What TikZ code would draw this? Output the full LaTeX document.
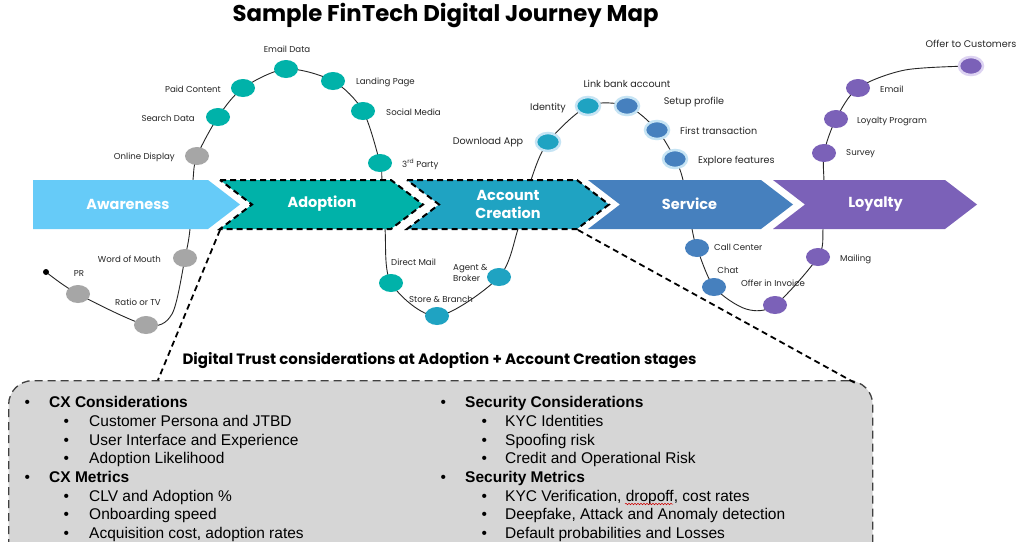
\documentclass[tikz,border=0pt]{standalone}
\usepackage{fontspec}
\setmainfont{Liberation Sans}
\newfontfamily\geo{Poppins}
\usetikzlibrary{shapes.geometric,decorations.pathmorphing}
\definecolor{cAware}{HTML}{66CBF8}
\definecolor{cAdopt}{HTML}{00B2A9}
\definecolor{cAcct}{HTML}{1FA3C2}
\definecolor{cServ}{HTML}{4680BE}
\definecolor{cLoy}{HTML}{7B61B8}
\definecolor{cGray}{HTML}{A6A6A6}
\definecolor{cBox}{HTML}{D6D6D6}
\definecolor{cHaloB}{HTML}{C6E4F4}
\definecolor{cHaloP}{HTML}{DDD3F2}
\definecolor{cTxt}{HTML}{262626}
\tikzset{
  dot/.style={ellipse, minimum width=24pt, minimum height=18pt, inner sep=0pt, fill=#1},
  halo/.style={draw=#1, line width=2.5pt},
  lbl/.style={font=\geo\fontsize{8.6}{10}\selectfont, text=cTxt, inner sep=0pt},
  lblb/.style={font=\geo\fontsize{9.6}{11}\selectfont, text=cTxt, inner sep=0pt},
  stagetxt/.style={font=\geo\bfseries\fontsize{14.5}{18}\selectfont, text=white, align=center, inner sep=0pt},
  stageout/.style={draw=black, line width=2pt, dash pattern=on 6pt off 4pt},
  journey/.style={draw=black!85, line width=0.9pt},
  leader/.style={draw=black, line width=1.8pt, dash pattern=on 6pt off 4pt},
  panel/.style={draw=black!75, fill=cBox, line width=1.3pt, dash pattern=on 8pt off 5pt, rounded corners=24pt},
  boxtxt/.style={font=\fontsize{15.5}{18.7}\selectfont, text=black, inner sep=0pt, anchor=base west},
}
\begin{document}
\begin{tikzpicture}[x=1pt,y=-1pt]
\useasboundingbox (0,0) rectangle (1024,541);
\clip (0,0) rectangle (1024,541);
\fill[white] (0,0) rectangle (1024,541);

% title
\node[font=\geo\bfseries\fontsize{22.8}{26}\selectfont, anchor=base, inner sep=0pt] (title) at (445.5,21) {Sample FinTech Digital Journey Map};

% waypoints of the journey line
\coordinate (c0) at (46,272);
\coordinate (cPR) at (78,294);
\coordinate (cRatio) at (146,325);
\coordinate (w1) at (172,314);
\coordinate (cWom) at (185,258);
\coordinate (w2) at (190,229);
\coordinate (w3) at (193,180);
\coordinate (cOnline) at (197,156);
\coordinate (cSearch) at (218,117);
\coordinate (cPaid) at (243,88);
\coordinate (cEmailD) at (286,69);
\coordinate (cLanding) at (333,81);
\coordinate (cSocial) at (363,111);
\coordinate (cThird) at (380,163);
\coordinate (w4) at (382,180);
\coordinate (w5) at (385,229);
\coordinate (cDMail) at (391,283);
\coordinate (cStore) at (437,316);
\coordinate (cAgent) at (499,277);
\coordinate (w8) at (518,229);
\coordinate (w9) at (531,180);
\coordinate (cDownload) at (548,142);
\coordinate (cIdentity) at (588,106);
\coordinate (cLink) at (627,106);
\coordinate (cFirst) at (657,130);
\coordinate (cExplore) at (675,159);
\coordinate (w10) at (683,180);
\coordinate (w11) at (692,229);
\coordinate (cCall) at (697,248);
\coordinate (cChat) at (714,287);
\coordinate (w12) at (746,309);
\coordinate (cOffer) at (775,305);
\coordinate (cMailing) at (818,257);
\coordinate (w14) at (823,229);
\coordinate (w15) at (824,185);
\coordinate (cSurvey) at (824,153);
\coordinate (cLProg) at (836,119);
\coordinate (cEmailP) at (858,88);
\coordinate (w16) at (905,70);
\coordinate (cOTC) at (971,66);

\draw[journey] plot[smooth, tension=0.5] coordinates {(c0) (cPR) (cRatio) (w1) (cWom) (w2) (w3) (cOnline) (cSearch) (cPaid) (cEmailD) (cLanding) (cSocial) (cThird) (w4) (w5) (cDMail) (cStore) (cAgent) (w8) (w9) (cDownload) (cIdentity) (cLink) (cFirst) (cExplore) (w10) (w11) (cCall) (cChat) (w12) (cOffer) (cMailing) (w14) (w15) (cSurvey) (cLProg) (cEmailP) (w16) (cOTC)};

% stage chevrons
\fill[cAware] (33,180) -- (208,180) -- (240,204.5) -- (208,229) -- (33,229) -- cycle;
\path[fill=cAdopt, stageout] (220,180) -- (391,180) -- (423,204.5) -- (391,229) -- (220,229) -- (252,204.5) -- cycle;
\path[fill=cAcct, stageout] (407,180) -- (577,180) -- (609,204.5) -- (577,229) -- (407,229) -- (439,204.5) -- cycle;
\fill[cServ] (588,180) -- (761,180) -- (793,204.5) -- (761,229) -- (588,229) -- (620,204.5) -- cycle;
\fill[cLoy] (773,180) -- (945,180) -- (977,204.5) -- (945,229) -- (773,229) -- (805,204.5) -- cycle;
\coordinate (adoBL) at (220,230);
\coordinate (accBR) at (578,230);

\node[stagetxt] (sAware) at (128,204) {Awareness};
\node[stagetxt] (sAdopt) at (322,204) {Adoption};
\node[stagetxt] (sAcct) at (508,204) {Account\\Creation};
\node[stagetxt] (sServ) at (689.5,204) {Service};
\node[stagetxt] (sLoy) at (875.5,204) {Loyalty};

% dots
\node[circle, fill=black, inner sep=0pt, minimum size=6pt] (dStart) at (c0) {};
\node[dot=cGray] (dPR) at (cPR) {};
\node[dot=cGray] (dRatio) at (cRatio) {};
\node[dot=cGray] (dWom) at (cWom) {};
\node[dot=cGray] (dOnline) at (cOnline) {};
\node[dot=cAdopt] (dSearch) at (cSearch) {};
\node[dot=cAdopt] (dPaid) at (cPaid) {};
\node[dot=cAdopt] (dEmailD) at (cEmailD) {};
\node[dot=cAdopt] (dLanding) at (cLanding) {};
\node[dot=cAdopt] (dSocial) at (cSocial) {};
\node[dot=cAdopt] (dThird) at (cThird) {};
\node[dot=cAdopt] (dDMail) at (cDMail) {};
\node[dot=cAcct] (dStore) at (cStore) {};
\node[dot=cAcct] (dAgent) at (cAgent) {};
\node[dot=cAcct, halo=cHaloB] (dDownload) at (cDownload) {};
\node[dot=cAcct, halo=cHaloB] (dIdentity) at (cIdentity) {};
\node[dot=cServ, halo=cHaloB] (dLink) at (cLink) {};
\node[dot=cServ, halo=cHaloB] (dFirst) at (cFirst) {};
\node[dot=cServ, halo=cHaloB] (dExplore) at (cExplore) {};
\node[dot=cServ] (dCall) at (cCall) {};
\node[dot=cServ] (dChat) at (cChat) {};
\node[dot=cLoy] (dOffer) at (cOffer) {};
\node[dot=cLoy] (dMailing) at (cMailing) {};
\node[dot=cLoy] (dSurvey) at (cSurvey) {};
\node[dot=cLoy] (dLProg) at (cLProg) {};
\node[dot=cLoy] (dEmailP) at (cEmailP) {};
\node[dot=cLoy, halo=cHaloP] (dOTC) at (cOTC) {};

% labels
\node[lbl] (tEmailD) at (287,49) {Email Data};
\node[lbl, anchor=east] (tPaid) at (221,89) {Paid Content};
\node[lbl, anchor=east] (tSearch) at (195,118) {Search Data};
\node[lbl, anchor=east] (tOnline) at (175,157) {Online Display};
\node[lbl, anchor=west] (tLanding) at (356,82) {Landing Page};
\node[lbl, anchor=west] (tSocial) at (386,112) {Social Media};
\node[lbl, anchor=west] (tThird) at (402,164) {3\textsuperscript{rd} Party};
\node[lbl, anchor=east] (tWom) at (161,259) {Word of Mouth};
\node[lbl] (tPR) at (79,273) {PR};
\node[lbl] (tRatio) at (138,302) {Ratio or TV};
\node[lbl, anchor=west] (tDMail) at (391,262) {Direct Mail};
\node[lbl] (tStore) at (441,299) {Store \& Branch};
\node[lbl, anchor=west, align=left, font=\geo\fontsize{8.6}{10.5}\selectfont] (tAgent) at (453,273) {Agent \&\\Broker};
\node[lblb] (tDownload) at (488,142) {Download App};
\node[lblb] (tIdentity) at (548,108) {Identity};
\node[lblb] (tLink) at (627,84) {Link bank account};
\node[lblb] (tSetup) at (694,102) {Setup profile};
\node[lblb, anchor=west] (tFirst) at (680,131) {First transaction};
\node[lblb, anchor=west] (tExplore) at (698,161) {Explore features};
\node[lbl, anchor=west] (tCall) at (714,247) {Call Center};
\node[lbl] (tChat) at (728,270) {Chat};
\node[lbl] (tOffer) at (773,283) {Offer in Invoice};
\node[lbl, anchor=west] (tMailing) at (840,259) {Mailing};
\node[lbl, anchor=west] (tSurvey) at (846,154) {Survey};
\node[lbl, anchor=west] (tLProg) at (857,121) {Loyalty Program};
\node[lbl, anchor=west] (tEmailP) at (880,89) {Email};
\node[lblb] (tOTC) at (971,44) {Offer to Customers};

% considerations panel
\node[panel, anchor=north west, minimum width=864pt, minimum height=200pt, inner sep=0pt] (panel) at (8,380) {};
\coordinate (panelL) at (158,380);
\coordinate (panelR) at (857,384);
\draw[leader] (adoBL) -- (panelL);
\draw[leader] (accBR) -- (panelR);

\node[font=\geo\bfseries\fontsize{15}{18}\selectfont, anchor=base, inner sep=0pt] (heading) at (439.5,364) {Digital Trust considerations at Adoption + Account Creation stages};

\node[boxtxt] (l1) at (24.5,407) {\makebox[24.5pt][l]{•}\textbf{CX Considerations}};
\node[boxtxt] (l2) at (63.5,426) {\makebox[25.5pt][l]{•}Customer Persona and JTBD};
\node[boxtxt] (l3) at (63.5,445) {\makebox[25.5pt][l]{•}User Interface and Experience};
\node[boxtxt] (l4) at (63.5,463.5) {\makebox[25.5pt][l]{•}Adoption Likelihood};
\node[boxtxt] (l5) at (24.5,482) {\makebox[24.5pt][l]{•}\textbf{CX Metrics}};
\node[boxtxt] (l6) at (63.5,501) {\makebox[25.5pt][l]{•}CLV and Adoption \%};
\node[boxtxt] (l7) at (63.5,519.5) {\makebox[25.5pt][l]{•}Onboarding speed};
\node[boxtxt] (l8) at (63.5,538) {\makebox[25.5pt][l]{•}Acquisition cost, adoption rates};

\node[boxtxt] (r1) at (440.5,407) {\makebox[24.5pt][l]{•}\textbf{Security Considerations}};
\node[boxtxt] (r2) at (481.5,426) {\makebox[23.5pt][l]{•}KYC Identities};
\node[boxtxt] (r3) at (481.5,445) {\makebox[23.5pt][l]{•}Spoofing risk};
\node[boxtxt] (r4) at (481.5,463.5) {\makebox[23.5pt][l]{•}Credit and Operational Risk};
\node[boxtxt] (r5) at (440.5,482) {\makebox[24.5pt][l]{•}\textbf{Security Metrics}};
\node[boxtxt] (r6) at (481.5,501) {\makebox[23.5pt][l]{•}KYC Verification, dropoff, cost rates};
\node[boxtxt] (r7) at (481.5,519.5) {\makebox[23.5pt][l]{•}Deepfake, Attack and Anomaly detection};
\node[boxtxt] (r8) at (481.5,538) {\makebox[23.5pt][l]{•}Default probabilities and Losses};
\draw[red!80!black, line width=0.5pt, decorate, decoration={snake, amplitude=0.7pt, segment length=3pt}] (625,504) -- (673,504);
\end{tikzpicture}
\end{document}
